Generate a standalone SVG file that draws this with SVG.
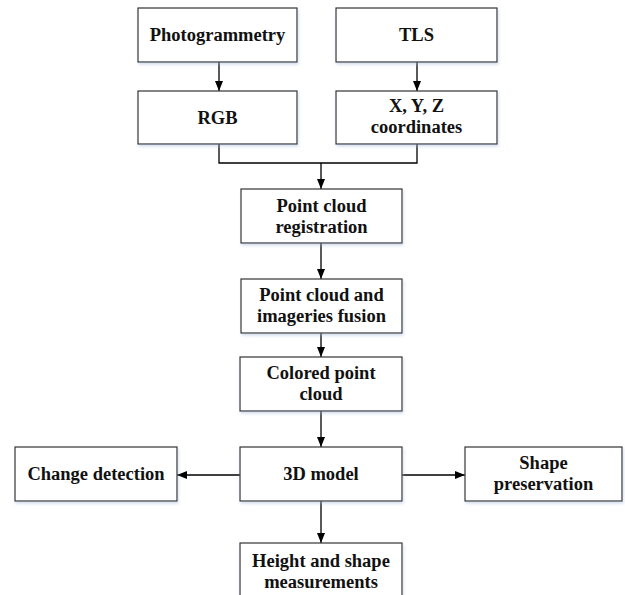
<svg xmlns="http://www.w3.org/2000/svg" width="625" height="595" viewBox="0 0 625 595">
<defs>
<marker id="ah" viewBox="0 0 10 10" refX="10" refY="5" markerWidth="10" markerHeight="10" markerUnits="userSpaceOnUse" orient="auto">
<path d="M0,1 L10,5 L0,9 Z" fill="#000"/>
</marker>
<filter id="sh" x="-10%" y="-10%" width="130%" height="140%">
<feGaussianBlur in="SourceAlpha" stdDeviation="1.5"/>
<feOffset dx="1" dy="2" result="b"/>
<feFlood flood-color="#9fb4d6" flood-opacity="0.45"/>
<feComposite in2="b" operator="in"/>
<feMerge><feMergeNode/><feMergeNode in="SourceGraphic"/></feMerge>
</filter>
<style>
.box{fill:#fff;stroke:#333;stroke-width:1.2;filter:url(#sh)}
.t{font-family:"Liberation Serif","Times New Roman",serif;font-weight:bold;font-size:18.5px;fill:#111;text-anchor:middle}
.c{fill:none;stroke:#000;stroke-width:1.3}
</style>
</defs>
<rect width="625" height="595" fill="#fff"/>
<g id="connectors">
<line class="c" x1="219" y1="62" x2="219" y2="91" marker-end="url(#ah)"/>
<line class="c" x1="417" y1="62" x2="417" y2="91" marker-end="url(#ah)"/>
<polyline class="c" points="219,144 219,163 417,163 417,144"/>
<line class="c" x1="321" y1="163" x2="321" y2="189" marker-end="url(#ah)"/>
<line class="c" x1="321" y1="243" x2="321" y2="279" marker-end="url(#ah)"/>
<line class="c" x1="321" y1="333" x2="321" y2="357" marker-end="url(#ah)"/>
<line class="c" x1="321" y1="411" x2="321" y2="447" marker-end="url(#ah)"/>
<line class="c" x1="240" y1="475" x2="177" y2="475" marker-end="url(#ah)"/>
<line class="c" x1="402" y1="475" x2="465" y2="475" marker-end="url(#ah)"/>
<line class="c" x1="321" y1="501" x2="321" y2="543" marker-end="url(#ah)"/>
</g>
<g id="photogrammetry"><rect class="box" x="138" y="8" width="159" height="54"/><text class="t" x="217.5" y="41">Photogrammetry</text></g>
<g id="tls"><rect class="box" x="336" y="8" width="161" height="54"/><text class="t" x="416.5" y="41">TLS</text></g>
<g id="rgb"><rect class="box" x="138" y="91" width="159" height="53"/><text class="t" x="217.5" y="124">RGB</text></g>
<g id="xyz"><rect class="box" x="336" y="91" width="161" height="53"/><text class="t" x="416.5" y="112">X, Y, Z</text><text class="t" x="416.5" y="133">coordinates</text></g>
<g id="registration"><rect class="box" x="241" y="189" width="161" height="54"/><text class="t" x="321.5" y="212">Point cloud</text><text class="t" x="321.5" y="233">registration</text></g>
<g id="fusion"><rect class="box" x="241" y="279" width="161" height="54"/><text class="t" x="321.5" y="301">Point cloud and</text><text class="t" x="321.5" y="322">imageries fusion</text></g>
<g id="colored"><rect class="box" x="240" y="357" width="162" height="54"/><text class="t" x="321" y="379">Colored point</text><text class="t" x="321" y="400">cloud</text></g>
<g id="model3d"><rect class="box" x="240" y="447" width="162" height="54"/><text class="t" x="321" y="480">3D model</text></g>
<g id="change"><rect class="box" x="15" y="447" width="162" height="54"/><text class="t" x="96" y="480">Change detection</text></g>
<g id="shape"><rect class="box" x="465" y="447" width="157" height="54"/><text class="t" x="543.5" y="469">Shape</text><text class="t" x="543.5" y="490">preservation</text></g>
<g id="height"><rect class="box" x="240" y="543" width="162" height="60"/><text class="t" x="321" y="567">Height and shape</text><text class="t" x="321" y="588">measurements</text></g>
</svg>
